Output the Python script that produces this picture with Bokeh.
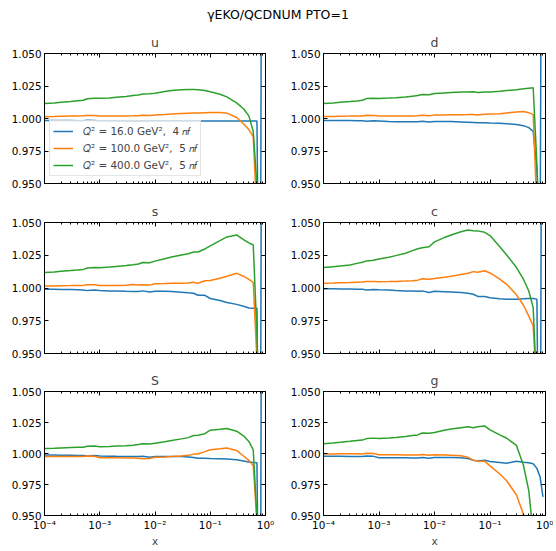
from bokeh.plotting import figure
from bokeh.models import (Range1d, FixedTicker, CustomJSTickFormatter, PrintfTickFormatter,
                          LinearAxis, LogAxis, Legend, LegendItem, Div)
from bokeh.layouts import column, row
from bokeh.embed import file_html
from bokeh.resources import INLINE

# ---------------- data ----------------
X = [1e-4, 1.5e-4, 2e-4, 3e-4, 4e-4, 5e-4, 6e-4, 8e-4, 1e-3, 1.5e-3, 2e-3, 3e-3, 4e-3, 5e-3,
     6e-3, 8e-3, 1e-2, 1.5e-2, 2e-2, 3e-2, 4e-2, 5e-2, 6e-2, 8e-2, 0.1, 0.15, 0.2, 0.3, 0.4,
     0.5, 0.6, 0.7, 0.8, 0.9]

U_16 = [0.9985, 0.9985, 0.9985, 0.9984, 0.9983, 0.9982, 0.9986, 0.9984, 0.998, 0.998, 0.998, 0.9979,
        0.9979, 0.9978, 0.9981, 0.9979, 0.998, 0.998, 0.998, 0.998, 0.998, 0.998, 0.998, 0.998, 0.998,
        0.998, 0.998, 0.998, 0.998, 0.998, 0.998, 0.998, 0.75, 1.6]
U_100 = [1.0013, 1.0015, 1.0017, 1.0019, 1.002, 1.0021, 1.0024, 1.0023, 1.0019, 1.0019, 1.002, 1.002,
         1.0021, 1.0022, 1.0025, 1.0023, 1.0027, 1.0031, 1.0035, 1.0039, 1.0041, 1.0042, 1.0042, 1.0045,
         1.0046, 1.0046, 1.0041, 1.0008, 0.996, 0.9915, 0.986, 0.925, 0.85, 0.80]
U_400 = [1.0115, 1.012, 1.0125, 1.013, 1.0137, 1.014, 1.0152, 1.0155, 1.0155, 1.0158, 1.0163, 1.017,
         1.0176, 1.018, 1.0188, 1.0191, 1.0194, 1.0207, 1.0216, 1.0222, 1.0224, 1.0223, 1.0222, 1.0215,
         1.0205, 1.0187, 1.0166, 1.012, 1.0075, 1.002, 0.990, 0.948, 0.88, 0.84]

D_16 = [0.9985, 0.9985, 0.9985, 0.9984, 0.9983, 0.9982, 0.9978, 0.9982, 0.998, 0.9976, 0.9975, 0.9975,
        0.9975, 0.9975, 0.9978, 0.9974, 0.9977, 0.9977, 0.9976, 0.9974, 0.9972, 0.997, 0.9968, 0.9968,
        0.9966, 0.9963, 0.996, 0.9953, 0.9945, 0.993, 0.990, 0.960, 0.90, 1.5]
D_100 = [1.0015, 1.0016, 1.0018, 1.0019, 1.002, 1.002, 1.0025, 1.0024, 1.0019, 1.0019, 1.002, 1.002,
         1.002, 1.0021, 1.0025, 1.0021, 1.0026, 1.0027, 1.0028, 1.0029, 1.003, 1.0031, 1.0027, 1.0033,
         1.0035, 1.0037, 1.0043, 1.005, 1.0053, 1.0045, 1.003, 0.93, 0.85, 0.80]
D_400 = [1.0115, 1.012, 1.0125, 1.013, 1.0135, 1.014, 1.0153, 1.0155, 1.0154, 1.0157, 1.016, 1.0165,
         1.0172, 1.0177, 1.0185, 1.0182, 1.0193, 1.0197, 1.02, 1.0203, 1.0204, 1.0205, 1.02, 1.0204,
         1.0203, 1.021, 1.0215, 1.0222, 1.0228, 1.0233, 1.0237, 0.965, 0.90, 0.84]

S_16 = [0.999, 0.999, 0.9989, 0.9988, 0.9987, 0.9985, 0.998, 0.9984, 0.998, 0.9978, 0.9977, 0.9975,
        0.9974, 0.9973, 0.9978, 0.997, 0.9975, 0.9975, 0.9973, 0.9968, 0.9963, 0.996, 0.9945, 0.9944,
        0.992, 0.9905, 0.989, 0.9875, 0.986, 0.9848, 0.9846, 0.9845, 0.75, 1.6]
S_100 = [1.0015, 1.0016, 1.0018, 1.0019, 1.002, 1.002, 1.0025, 1.0024, 1.002, 1.002, 1.002, 1.0021,
         1.0026, 1.0022, 1.0025, 1.0022, 1.0032, 1.0034, 1.0036, 1.0037, 1.0038, 1.0043, 1.0036, 1.0055,
         1.0058, 1.0075, 1.009, 1.0112, 1.009, 1.0065, 1.0043, 0.945, 0.85, 0.80]
S_400 = [1.0118, 1.0122, 1.0127, 1.0133, 1.0138, 1.0142, 1.0153, 1.0157, 1.0155, 1.016, 1.0165, 1.0172,
         1.0178, 1.0183, 1.0195, 1.0193, 1.0205, 1.0223, 1.0237, 1.0252, 1.0262, 1.0275, 1.0275, 1.0298,
         1.0322, 1.0362, 1.039, 1.0405, 1.037, 1.0345, 1.0328, 0.965, 0.86, 0.82]

C_16 = [0.9995, 0.9994, 0.9993, 0.9992, 0.9991, 0.999, 0.9985, 0.9989, 0.9987, 0.9984, 0.998, 0.9978,
        0.9977, 0.9975, 0.9978, 0.9966, 0.9975, 0.9972, 0.997, 0.9965, 0.996, 0.9952, 0.9936, 0.9935,
        0.9925, 0.9918, 0.9915, 0.9915, 0.9918, 0.992, 0.992, 0.9915, 0.75, 1.6]
C_100 = [1.0036, 1.0038, 1.004, 1.0042, 1.0044, 1.0045, 1.005, 1.005, 1.0048, 1.0049, 1.005, 1.0053,
         1.0056, 1.006, 1.007, 1.0066, 1.0072, 1.0082, 1.009, 1.0103, 1.0112, 1.0125, 1.012, 1.0132,
         1.0115, 1.0068, 1.0028, 0.9948, 0.987, 0.9785, 0.971, 0.92, 0.85, 0.80]
C_400 = [1.0156, 1.0163, 1.0168, 1.0175, 1.0188, 1.0197, 1.0207, 1.0212, 1.0222, 1.0235, 1.0247, 1.0265,
         1.0285, 1.03, 1.0308, 1.0315, 1.0352, 1.0385, 1.0405, 1.043, 1.0443, 1.0437, 1.0436, 1.0425,
         1.040, 1.0315, 1.0252, 1.0156, 1.0067, 0.9977, 0.985, 0.92, 0.85, 0.80]

SI_16 = [0.9987, 0.9987, 0.9986, 0.9985, 0.9984, 0.9983, 0.998, 0.9983, 0.998, 0.9978, 0.9977, 0.9976,
         0.9975, 0.9975, 0.9977, 0.997, 0.9975, 0.9975, 0.9975, 0.9975, 0.9972, 0.9968, 0.9962, 0.9962,
         0.996, 0.9957, 0.9955, 0.995, 0.994, 0.9932, 0.9928, 0.9925, 0.75, 1.6]
SI_100 = [0.9975, 0.9975, 0.9975, 0.9976, 0.9976, 0.9976, 0.998, 0.9978, 0.9966, 0.9965, 0.9965, 0.9964,
          0.9963, 0.9962, 0.9957, 0.996, 0.997, 0.9972, 0.9975, 0.998, 0.9985, 0.9995, 0.9996, 1.0015,
          1.003, 1.0038, 1.0045, 1.0025, 0.998, 0.9945, 0.990, 0.945, 0.85, 0.80]
SI_400 = [1.004, 1.0042, 1.0045, 1.0049, 1.005, 1.005, 1.0058, 1.006, 1.0055, 1.0057, 1.006, 1.0063,
          1.0066, 1.0072, 1.0078, 1.0076, 1.0083, 1.0095, 1.0105, 1.0118, 1.0128, 1.0145, 1.0148, 1.016,
          1.0188, 1.0195, 1.0202, 1.018, 1.0143, 1.0097, 1.003, 0.948, 0.86, 0.82]

G_16 = [0.9977, 0.9977, 0.9977, 0.9976, 0.9976, 0.9975, 0.998, 0.9977, 0.9966, 0.9965, 0.9965, 0.9965,
        0.9964, 0.9964, 0.9968, 0.9962, 0.9968, 0.9968, 0.9968, 0.9966, 0.996, 0.9945, 0.994, 0.9945,
        0.9935, 0.9928, 0.9922, 0.9938, 0.993, 0.9925, 0.9918, 0.988, 0.981, 0.965]
G_100 = [0.9995, 0.9996, 0.9997, 0.9998, 0.9998, 0.9996, 1.0002, 1.0, 0.999, 0.999, 0.999, 0.9988,
         0.9988, 0.9987, 0.9992, 0.9985, 0.999, 0.9988, 0.9986, 0.9982, 0.997, 0.9945, 0.994, 0.9938,
         0.990, 0.9835, 0.978, 0.9665, 0.951, 0.93, 0.90, 0.88, 0.86, 0.84]
G_400 = [1.0079, 1.0085, 1.009, 1.0098, 1.0105, 1.0108, 1.012, 1.0124, 1.012, 1.0125, 1.013, 1.0138,
         1.0145, 1.015, 1.0165, 1.0163, 1.017, 1.0188, 1.0198, 1.0208, 1.0215, 1.0208, 1.0215, 1.0222,
         1.019, 1.015, 1.0123, 1.0065, 0.9905, 0.970, 0.935, 0.90, 0.88, 0.86]

PANEL_NAMES = ["u", "d", "s", "c", "S", "g"]
PANEL_DATA = [(U_16, U_100, U_400), (D_16, D_100, D_400), (S_16, S_100, S_400),
              (C_16, C_100, C_400), (SI_16, SI_100, SI_400), (G_16, G_100, G_400)]
SERIES_LABELS = ["𝑄² = 16.0 GeV²,  4 𝑛𝑓", "𝑄² = 100.0 GeV²,  5 𝑛𝑓", "𝑄² = 400.0 GeV²,  5 𝑛𝑓"]
COLORS = ["#1f77b4", "#ff7f0e", "#2ca02c"]
SUPTITLE = "γEKO/QCDNUM PTO=1"
Y_TICKS = [0.95, 0.975, 1.0, 1.025, 1.05]
X_TICKS = [1e-4, 1e-3, 1e-2, 1e-1, 1.0]
X_TICK_LABELS = ["10⁻⁴", "10⁻³", "10⁻²", "10⁻¹", "10⁰"]
X_MINOR = [m * 10.0 ** e for e in range(-4, 0) for m in range(2, 10)]

FONT = "DejaVu Sans"
TICK_FS = "10.4px"

x_fmt_code = """
const e = Math.round(Math.log10(tick));
const i = e + 4;
return (i >= 0 && i < labels.length) ? labels[i] : "";
"""


def style_axis(ax, show_labels):
    ax.major_tick_in = 4
    ax.major_tick_out = 0
    ax.minor_tick_in = 2
    ax.minor_tick_out = 0
    ax.axis_line_color = "black"
    ax.major_tick_line_color = "black"
    ax.minor_tick_line_color = "black"
    ax.major_label_text_font = FONT
    ax.major_label_text_color = "black"
    if show_labels:
        ax.major_label_text_font_size = TICK_FS
        ax.major_label_standoff = 3
    else:
        ax.major_label_text_font_size = "0px"
        ax.major_label_standoff = 0
        ax.formatter = CustomJSTickFormatter(code="return '';")


def make_fig(idx):
    r, c = divmod(idx, 2)
    bl = 44 if c == 0 else 40
    br = 18 if c == 0 else 8
    fw = 221 if c == 0 else 222
    bt = 25 if r == 0 else 29
    fh = 131 if r == 1 else 130
    bb = [10, 9, 28][r]
    p = figure(width=bl + fw + br, height=bt + fh + bb, x_axis_type="log",
               x_range=Range1d(1e-4, 1.0), y_range=Range1d(0.95, 1.05),
               output_backend="svg", toolbar_location=None,
               min_border_left=bl, min_border_right=br, min_border_top=bt, min_border_bottom=bb)
    p.title.text = PANEL_NAMES[idx]
    p.title.align = "center"
    p.title.text_font = FONT
    p.title.text_font_size = "12.5px"
    p.title.text_font_style = "normal"
    p.title.standoff = 7
    p.xgrid.visible = False
    p.ygrid.visible = False
    p.outline_line_color = "black"
    p.outline_line_width = 1
    p.background_fill_color = "white"
    p.border_fill_color = "white"

    xb = p.xaxis[0]
    xb.ticker = FixedTicker(ticks=X_TICKS, minor_ticks=X_MINOR)
    style_axis(xb, r == 2)
    if r == 2:
        xb.formatter = CustomJSTickFormatter(args=dict(labels=X_TICK_LABELS), code=x_fmt_code)
        xb.axis_label = "x"
        xb.axis_label_text_font = FONT
        xb.axis_label_text_font_size = TICK_FS
        xb.axis_label_text_font_style = "normal"
        xb.axis_label_standoff = 1

    yl = p.yaxis[0]
    yl.ticker = FixedTicker(ticks=Y_TICKS)
    yl.formatter = PrintfTickFormatter(format="%.3f")
    style_axis(yl, True)

    xtop = LogAxis(ticker=FixedTicker(ticks=X_TICKS, minor_ticks=X_MINOR))
    style_axis(xtop, False)
    p.add_layout(xtop, "above")
    yr = LinearAxis(ticker=FixedTicker(ticks=Y_TICKS))
    style_axis(yr, False)
    p.add_layout(yr, "right")

    rends = []
    for vals, col in zip(PANEL_DATA[idx], COLORS):
        rends.append(p.line(X, vals, line_color=col, line_width=1.5))

    if idx == 0:
        items = [LegendItem(label=lab, renderers=[rr]) for lab, rr in zip(SERIES_LABELS, rends)]
        leg = Legend(items=items, location=(5, 7), margin=0, padding=3, spacing=3,
                     glyph_width=20, glyph_height=14, label_height=14, label_standoff=10,
                     label_text_font=FONT, label_text_font_size="10.4px",
                     border_line_color="#cccccc", border_line_width=1,
                     background_fill_color="white", background_fill_alpha=0.8)
        p.add_layout(leg)
    return p


figs = [make_fig(i) for i in range(6)]
title_div = Div(text=SUPTITLE, width=553, height=28, margin=(0, 0, 0, 0),
                styles={"font-family": FONT, "font-size": "12.5px", "text-align": "center",
                        "line-height": "30px", "width": "556px", "color": "black"})
layout = column(title_div, row(figs[0], figs[1]), row(figs[2], figs[3]), row(figs[4], figs[5]))

open("out.html", "w").write(file_html(layout, INLINE))
